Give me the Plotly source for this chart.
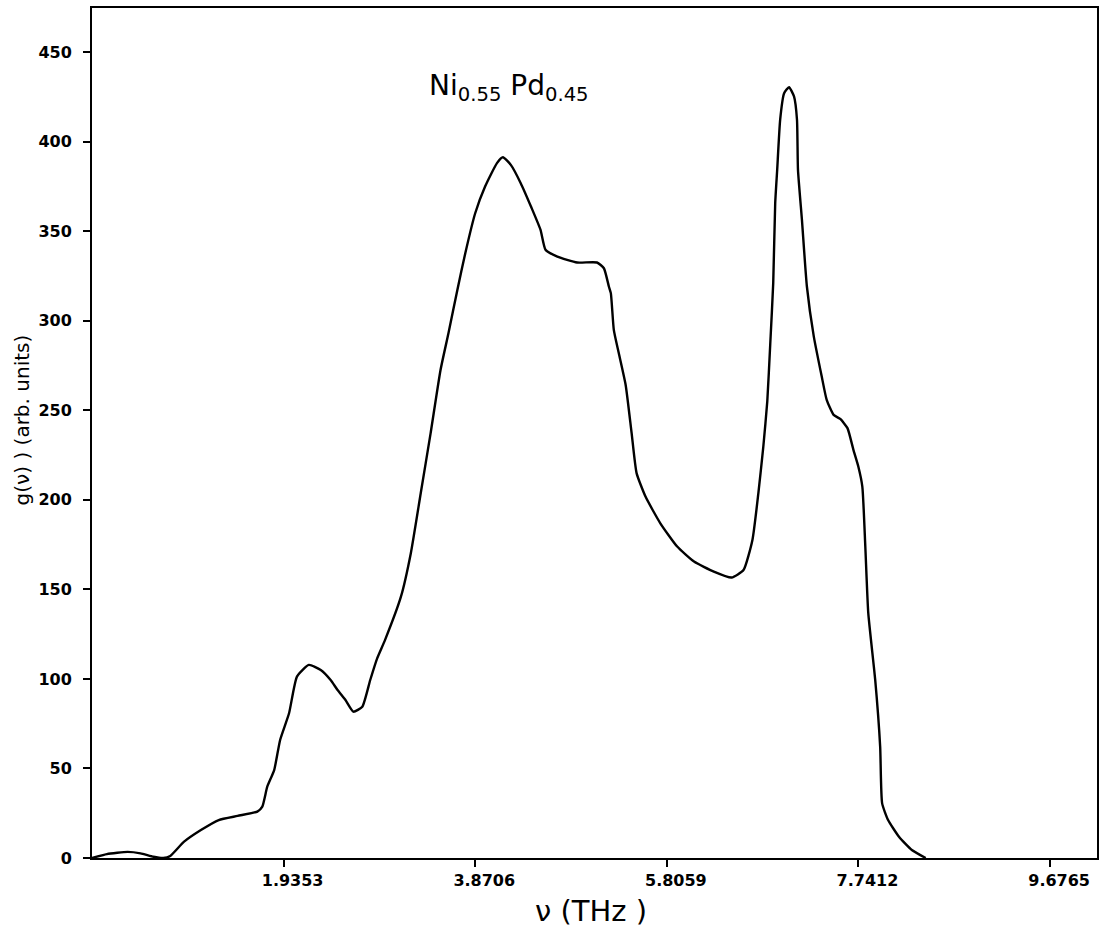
import plotly.graph_objects as go

# Phonon density of states of Ni0.55 Pd0.45
freq_thz = [0.00, 0.15, 0.36, 0.49, 0.62, 0.72, 0.79, 0.93, 1.10, 1.28, 1.47, 1.67, 1.72,
            1.77, 1.84, 1.90, 1.99, 2.07, 2.19, 2.31, 2.41, 2.48, 2.56, 2.64, 2.73,
            2.81, 2.88, 2.96, 3.12, 3.22, 3.32, 3.42, 3.52, 3.60, 3.69, 3.77, 3.87,
            3.97, 4.09, 4.15, 4.23, 4.33, 4.44, 4.53, 4.58, 4.70, 4.90, 5.10, 5.17,
            5.22, 5.24, 5.27, 5.32, 5.39, 5.45, 5.50, 5.59, 5.74, 5.91, 6.08, 6.28,
            6.46, 6.58, 6.67, 6.73, 6.78, 6.82, 6.85, 6.88, 6.90, 6.92, 6.95, 6.99,
            7.04, 7.09, 7.12, 7.13, 7.17, 7.22, 7.29, 7.37, 7.42, 7.49, 7.56, 7.63,
            7.69, 7.74, 7.78, 7.81, 7.84, 7.91, 7.96, 7.98, 8.04, 8.15, 8.28, 8.42]
g_nu = [0.0, 2.2, 3.4, 2.6, 0.7, 0.0, 1.1, 9.1, 15.6, 21.2, 23.5, 25.9, 28.7,
        39.8, 49.1, 65.9, 80.8, 101.3, 107.8, 105.0, 99.4, 93.8, 88.2, 81.7, 84.5,
        99.4, 111.5, 121.8, 145.9, 170.2, 203.7, 237.2, 272.5, 293.0, 317.2, 337.7, 360.0,
        374.9, 388.0, 391.3, 387.0, 376.8, 362.9, 350.7, 339.6, 335.8, 332.5, 332.5, 329.3,
        319.1, 315.4, 294.9, 281.9, 264.0, 237.2, 214.9, 201.8, 186.9, 173.9, 165.5, 159.9,
        156.6, 160.8, 177.6, 203.7, 229.7, 255.0, 287.0, 321.0, 365.6, 384.2, 412.2, 427.0,
        430.4, 425.2, 412.2, 384.2, 356.3, 319.1, 291.1, 268.8, 255.8, 247.4, 245.0, 240.0,
        227.9, 218.5, 207.4, 173.9, 136.7, 99.4, 62.2, 30.5, 21.2, 11.9, 4.5, 0.0]

x_ticks = [1.9353, 3.8706, 5.8059, 7.7412, 9.6765]
x_tick_labels = ["1.9353", "3.8706", "5.8059", "7.7412", "9.6765"]
y_ticks = [0, 50, 100, 150, 200, 250, 300, 350, 400, 450]

fig = go.Figure()
fig.add_trace(go.Scatter(x=freq_thz, y=g_nu, mode="lines",
                         line=dict(color="black", width=2.4, shape="spline", smoothing=0.5),
                         showlegend=False, hoverinfo="skip"))

tick_font = dict(family="DejaVu Sans", size=16, color="black", weight="bold")

fig.update_layout(
    width=1100, height=932,
    margin=dict(l=92, r=3, t=8, b=74),
    paper_bgcolor="white", plot_bgcolor="white",
    xaxis=dict(range=[0, 10.15], tickvals=x_ticks, ticktext=x_tick_labels,
               ticks="outside", ticklen=7, tickwidth=2, tickcolor="black",
               showline=True, linewidth=2, linecolor="black", mirror=True,
               showgrid=False, zeroline=False, tickfont=tick_font,
               ticklabelstandoff=0, ticklabelshift=9, automargin=False),
    yaxis=dict(range=[0, 474.6], tickvals=y_ticks,
               ticks="outside", ticklen=7, tickwidth=2, tickcolor="black",
               showline=True, linewidth=2, linecolor="black", mirror=True,
               showgrid=False, zeroline=False, tickfont=tick_font,
               ticklabelstandoff=8, automargin=False),
    annotations=[
        dict(text="Ni<sub>0.55</sub> Pd<sub>0.45</sub>", xref="paper", yref="paper",
             x=0.415, y=0.906, xanchor="center", yanchor="middle", showarrow=False,
             font=dict(family="DejaVu Sans", size=28, color="black")),
        dict(text="ν (THz )", xref="paper", yref="paper", x=0.497, y=-0.0625,
             xanchor="center", yanchor="middle",
             showarrow=False, font=dict(family="DejaVu Sans", size=29, color="black")),
        dict(text="g(ν) ) (arb. units)", xref="paper", yref="paper", x=-0.0695, y=0.515,
             xanchor="center", yanchor="middle",
             textangle=-90, showarrow=False,
             font=dict(family="DejaVu Sans", size=20, color="black")),
    ],
)

fig.write_html("out.html", config={"displayModeBar": False},
               post_script="document.body.style.margin='0px';")
